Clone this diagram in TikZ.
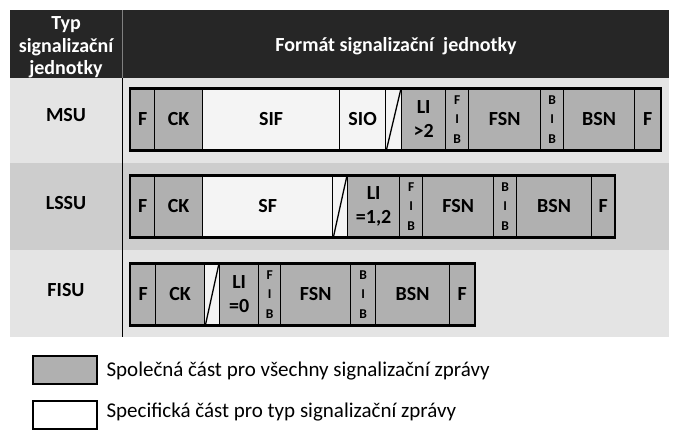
\documentclass[tikz,border=0pt]{standalone}
\usepackage{fontspec}
\setmainfont{Carlito}
\definecolor{headblack}{HTML}{262626}
\definecolor{rowlight}{HTML}{E4E4E4}
\definecolor{rowdark}{HTML}{CDCDCD}
\definecolor{cellgray}{HTML}{B0B0B0}
\definecolor{cellwhite}{HTML}{F4F4F4}
\begin{document}
\begin{tikzpicture}[x=1pt, y=-1pt,
cellC/.style={rectangle, draw=black, fill=cellgray, line width=1.3pt, inner sep=0pt, minimum height=61pt, anchor=west, align=center, font=\fontsize{20}{24}\selectfont\bfseries},
cellS/.style={cellC, fill=cellwhite},
cellBit/.style={cellC, font=\fontsize{13.5}{19.5}\selectfont\bfseries},
rowlabel/.style={font=\fontsize{20}{24}\selectfont\bfseries},
headtext/.style={text=white, align=center, font=\fontsize{20}{22.5}\selectfont\bfseries},
legbox/.style={rectangle, draw=black, line width=1.3pt, minimum width=64pt, minimum height=28pt, inner sep=0pt},
legtext/.style={anchor=west, font=\fontsize{21}{24}\selectfont}]

\useasboundingbox (0,0) rectangle (677,442);

% table background
\fill[headblack] (10,10) rectangle (669,78);
\fill[rowlight] (10,78) rectangle (669,163);
\fill[rowdark] (10,163) rectangle (669,250);
\fill[rowlight] (10,250) rectangle (669,337);
\draw[gray, line width=0.6pt] (122,10) -- (122,78);
\draw[line width=0.8pt] (122,78) -- (122,337);

\node[headtext](headType) at (66,47.5){Typ\\signalizační\\jednotky};
\node[headtext](headFormat) at (396,46){Formát signalizační\ \ jednotky};

\node[rowlabel](msu) at (66,115){MSU};
\node[rowlabel](lssu) at (66,203){LSSU};
\node[rowlabel](fisu) at (66,290){FISU};

% MSU
\node[cellC, minimum width=24pt](msuF1) at (130,119.5){F};
\node[cellC, minimum width=48pt](msuCK) at (154,119.5){CK};
\node[cellS, minimum width=137pt](msuSIF) at (202,119.5){SIF};
\node[cellS, minimum width=46pt](msuSIO) at (339,119.5){SIO};
\node[cellS, minimum width=16pt](msuCut) at (385,119.5){};
\node[cellC, minimum width=44pt](msuLI) at (401,119.5){LI\\>2};
\node[cellBit, minimum width=23pt](msuFIB) at (445,119.5){F\\I\\B};
\node[cellC, minimum width=72pt](msuFSN) at (468,119.5){FSN};
\node[cellBit, minimum width=23pt](msuBIB) at (540,119.5){B\\I\\B};
\node[cellC, minimum width=71pt](msuBSN) at (563,119.5){BSN};
\node[cellC, minimum width=26pt](msuF2) at (634,119.5){F};
\draw[line width=1.3pt]([shift={(1.5pt,1pt)}]msuCut.south west) -- ([shift={(-1.5pt,-1pt)}]msuCut.north east);
\draw[line width=2pt](msuF1.north west) rectangle (msuF2.south east);

% LSSU
\node[cellC, minimum width=24pt](lssuF1) at (130,206.5){F};
\node[cellC, minimum width=48pt](lssuCK) at (154,206.5){CK};
\node[cellS, minimum width=130pt](lssuSF) at (202,206.5){SF};
\node[cellS, minimum width=15pt](lssuCut) at (332,206.5){};
\node[cellC, minimum width=52pt](lssuLI) at (347,206.5){LI\\=1,2};
\node[cellBit, minimum width=23pt](lssuFIB) at (399,206.5){F\\I\\B};
\node[cellC, minimum width=71pt](lssuFSN) at (422,206.5){FSN};
\node[cellBit, minimum width=23pt](lssuBIB) at (493,206.5){B\\I\\B};
\node[cellC, minimum width=75pt](lssuBSN) at (516,206.5){BSN};
\node[cellC, minimum width=23pt](lssuF2) at (591,206.5){F};
\draw[line width=1.3pt]([shift={(1.5pt,1pt)}]lssuCut.south west) -- ([shift={(-1.5pt,-1pt)}]lssuCut.north east);
\draw[line width=2pt](lssuF1.north west) rectangle (lssuF2.south east);

% FISU
\node[cellC, minimum width=25pt](fisuF1) at (130,294.5){F};
\node[cellC, minimum width=49pt](fisuCK) at (155,294.5){CK};
\node[cellS, minimum width=15pt](fisuCut) at (204,294.5){};
\node[cellC, minimum width=39pt](fisuLI) at (219,294.5){LI\\=0};
\node[cellBit, minimum width=22pt](fisuFIB) at (258,294.5){F\\I\\B};
\node[cellC, minimum width=70pt](fisuFSN) at (280,294.5){FSN};
\node[cellBit, minimum width=25pt](fisuBIB) at (350,294.5){B\\I\\B};
\node[cellC, minimum width=74pt](fisuBSN) at (375,294.5){BSN};
\node[cellC, minimum width=25pt](fisuF2) at (449,294.5){F};
\draw[line width=1.3pt]([shift={(1.5pt,1pt)}]fisuCut.south west) -- ([shift={(-1.5pt,-1pt)}]fisuCut.north east);
\draw[line width=2pt](fisuF1.north west) rectangle (fisuF2.south east);

% legend
\node[legbox, fill=cellgray](legCommon) at (65,370){};
\node[legtext](legCommonText) at (103,371){Společná část pro všechny signalizační zprávy};
\node[legbox, fill=white](legSpecific) at (65,415){};
\node[legtext](legSpecificText) at (103,412){Specifická část pro typ signalizační zprávy};

\end{tikzpicture}
\end{document}
